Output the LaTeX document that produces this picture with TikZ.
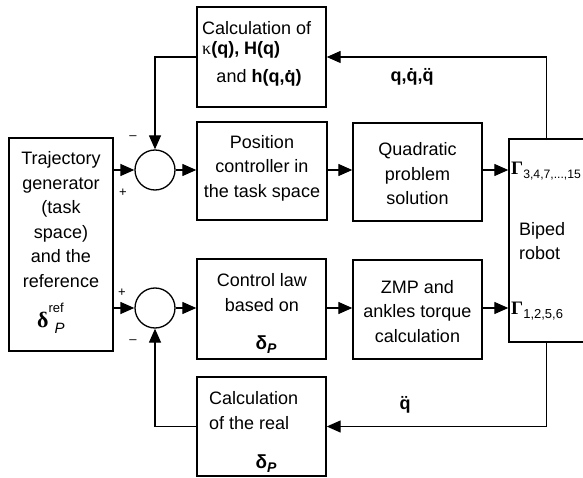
\documentclass[tikz,border=0pt]{standalone}
\usepackage{fontspec}
\setmainfont{Liberation Sans}
\newfontfamily\symfont{Liberation Serif}
\usetikzlibrary{arrows.meta}

\begin{document}
\begin{tikzpicture}[x=1pt,y=-1pt,
  box/.style={draw, inner sep=0pt, line width=1.4pt},
  sumnode/.style={draw, circle, minimum size=40pt, inner sep=0pt, line width=1.3pt},
  flow/.style={-{Triangle[length=14pt,width=12pt]}, line width=1.3pt},
  txt/.style={font=\fontsize{18}{24.5}\selectfont, inner sep=0pt, align=center},
  sgn/.style={font=\fontsize{13}{13}\selectfont, inner sep=0pt}]
\useasboundingbox (0,0) rectangle (583,478);

% blocks
\node[box, minimum width=129pt, minimum height=100pt] (calcTop) at (261.5,57) {};
\node[box, minimum width=104pt, minimum height=213pt] (traj) at (61,244.5) {};
\node[box, minimum width=130pt, minimum height=98pt] (pos) at (262,171) {};
\node[box, minimum width=129pt, minimum height=98pt] (quad) at (417.5,172) {};
\node[box, minimum width=120pt, minimum height=203pt] (biped) at (569,240.5) {};
\node[box, minimum width=129pt, minimum height=100pt] (ctrl) at (261.5,309) {};
\node[box, minimum width=129pt, minimum height=99pt] (zmp) at (417.5,309.5) {};
\node[box, minimum width=129pt, minimum height=99pt] (calcBot) at (261.5,426.5) {};
\node[sumnode] (sumA) at (155,170) {};
\node[sumnode] (sumB) at (155,308) {};

\coordinate (tapTop) at ([xshift=38pt]biped.north west);
\coordinate (tapBot) at ([xshift=38pt]biped.south west);

% forward paths
\draw[flow] (sumA -| traj.east) -- (sumA.west);
\draw[flow] (sumA.east) -- (sumA -| pos.west);
\draw[flow] (sumA -| pos.east) -- (sumA -| quad.west);
\draw[flow] (sumA -| quad.east) -- (sumA -| biped.west);
\draw[flow] (sumB -| traj.east) -- (sumB.west);
\draw[flow] (sumB.east) -- (sumB -| ctrl.west);
\draw[flow] (sumB -| ctrl.east) -- (sumB -| zmp.west);
\draw[flow] (sumB -| zmp.east) -- (sumB -| biped.west);

% feedback paths
\draw[flow] (tapTop) |- (calcTop.east);
\draw[flow] (calcTop.west) -| (sumA.north);
\draw[flow] (tapBot) |- (calcBot.east);
\draw[flow] (calcBot.west) -| (sumB.south);

% block texts
\node[txt, anchor=west] (tTop1) at (202,28) {Calculation of};
\node[txt, anchor=west] (tTop2) at (202,50) {{\symfont κ}\textbf{(q), H(q)}};
\node[txt] (tTop3) at (259,78) {and \textbf{h(q,\.{q})}};

\node[txt] (tTraj) at (61,219.5) {Trajectory\\generator\\(task\\space)\\and the\\reference};
\node[inner sep=0pt, anchor=base west] (tRef) at (37,327)
  {{\fontsize{22}{22}\selectfont\symfont\bfseries δ}\rlap{\raisebox{15pt}{\fontsize{13}{13}\selectfont ref}}\hspace{6pt}\raisebox{-6pt}{\fontsize{15}{15}\selectfont\itshape P}};

\node[txt] (tPos) at (262,168) {Position\\controller in\\the task space};
\node[txt] (tQuad) at (417.5,174) {Quadratic\\problem\\solution};
\node[txt] (tZmp) at (417.5,311.5) {ZMP and\\ankles torque\\calculation};
\node[txt] (tCtrl) at (262,292.5) {Control law\\based on};
\node[inner sep=0pt, anchor=base] (tCtrlD) at (266,349)
  {\fontsize{19}{19}\selectfont\bfseries δ\raisebox{-4pt}{\fontsize{14}{14}\selectfont\bfseries\itshape P}};
\node[txt, align=left, anchor=west] (tBot) at (209,410.5) {Calculation\\of the real};
\node[inner sep=0pt, anchor=base] (tBotD) at (266,468)
  {\fontsize{19}{19}\selectfont\bfseries δ\raisebox{-4pt}{\fontsize{14}{14}\selectfont\bfseries\itshape P}};
\node[txt, align=left, anchor=west] (tBiped) at (519,241) {Biped\\robot};

% torque labels
\node[inner sep=0pt, anchor=base west] (gUp) at (511,175)
  {{\fontsize{19}{19}\selectfont\symfont\bfseries Γ}\raisebox{-4pt}{\fontsize{12.2}{12.2}\selectfont 3,4,7,...,15}};
\node[inner sep=0pt, anchor=base west] (gLo) at (511,314)
  {{\fontsize{19}{19}\selectfont\symfont\bfseries Γ}\raisebox{-4pt}{\fontsize{13}{13}\selectfont 1,2,5,6}};

% signal labels
\node[txt, font=\fontsize{18}{18}\selectfont\bfseries] (lq) at (412,77) {q,\.{q},\"{q}};
\node[txt, font=\fontsize{18}{18}\selectfont\bfseries] (lqdd) at (405,405) {\"{q}};

% summing signs
\node[sgn] (sA1) at (133,138) {–};
\node[sgn] (sA2) at (123,193) {+};
\node[sgn] (sB1) at (122,293) {+};
\node[sgn] (sB2) at (133,342) {–};
\end{tikzpicture}
\end{document}
